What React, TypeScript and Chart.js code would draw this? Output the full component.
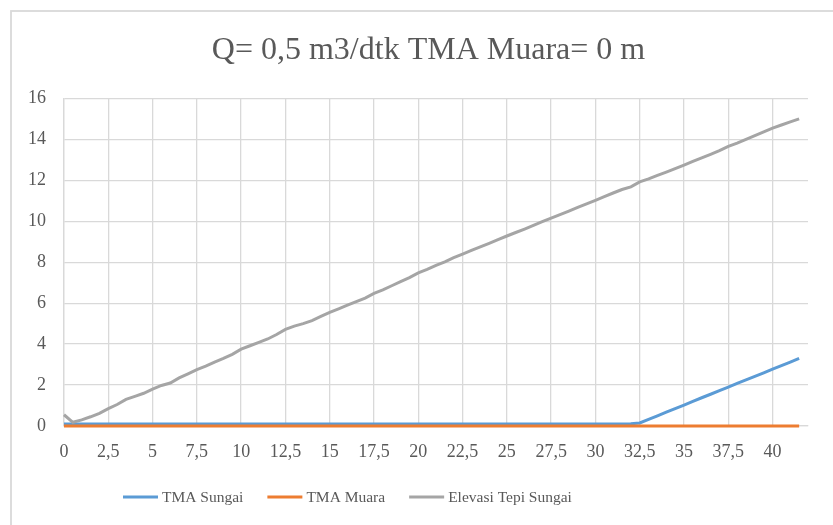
import React, { useEffect, useRef } from "react";
import { Chart, registerables } from "chart.js";

Chart.register(...registerables);

// Station along the river (m), every 0.5
const stations: number[] = [
  0, 0.5, 1, 1.5, 2, 2.5, 3, 3.5, 4, 4.5, 5, 5.5, 6, 6.5, 7, 7.5, 8, 8.5, 9, 9.5,
  10, 10.5, 11, 11.5, 12, 12.5, 13, 13.5, 14, 14.5, 15, 15.5, 16, 16.5, 17, 17.5, 18, 18.5, 19, 19.5,
  20, 20.5, 21, 21.5, 22, 22.5, 23, 23.5, 24, 24.5, 25, 25.5, 26, 26.5, 27, 27.5, 28, 28.5, 29, 29.5,
  30, 30.5, 31, 31.5, 32, 32.5, 33, 33.5, 34, 34.5, 35, 35.5, 36, 36.5, 37, 37.5, 38, 38.5, 39, 39.5,
  40, 40.5, 41, 41.5,
];

const tmaSungai: number[] = [
  0.1, 0.1, 0.1, 0.1, 0.1, 0.1, 0.1, 0.1, 0.1, 0.1, 0.1, 0.1, 0.1, 0.1, 0.1, 0.1, 0.1, 0.1, 0.1, 0.1,
  0.1, 0.1, 0.1, 0.1, 0.1, 0.1, 0.1, 0.1, 0.1, 0.1, 0.1, 0.1, 0.1, 0.1, 0.1, 0.1, 0.1, 0.1, 0.1, 0.1,
  0.1, 0.1, 0.1, 0.1, 0.1, 0.1, 0.1, 0.1, 0.1, 0.1, 0.1, 0.1, 0.1, 0.1, 0.1, 0.1, 0.1, 0.1, 0.1, 0.1,
  0.1, 0.1, 0.1, 0.1, 0.11, 0.15, 0.32, 0.5, 0.68, 0.85, 1.02, 1.2, 1.38, 1.55, 1.73, 1.9, 2.08, 2.25, 2.42, 2.6,
  2.78, 2.95, 3.12, 3.3,
];

const tmaMuara: number[] = [
  0, 0, 0, 0, 0, 0, 0, 0, 0, 0, 0, 0, 0, 0, 0, 0, 0, 0, 0, 0,
  0, 0, 0, 0, 0, 0, 0, 0, 0, 0, 0, 0, 0, 0, 0, 0, 0, 0, 0, 0,
  0, 0, 0, 0, 0, 0, 0, 0, 0, 0, 0, 0, 0, 0, 0, 0, 0, 0, 0, 0,
  0, 0, 0, 0, 0, 0, 0, 0, 0, 0, 0, 0, 0, 0, 0, 0, 0, 0, 0, 0,
  0, 0, 0, 0,
];

const elevasiTepi: number[] = [
  0.55, 0.18, 0.3, 0.45, 0.62, 0.85, 1.05, 1.3, 1.45, 1.6, 1.8, 1.98, 2.1, 2.35, 2.55, 2.75, 2.92, 3.12, 3.3, 3.5,
  3.75, 3.92, 4.08, 4.25, 4.47, 4.72, 4.88, 5.0, 5.15, 5.35, 5.55, 5.72, 5.9, 6.08, 6.25, 6.48, 6.65, 6.85, 7.05, 7.25,
  7.48, 7.65, 7.85, 8.02, 8.22, 8.4, 8.58, 8.75, 8.92, 9.1, 9.28, 9.45, 9.62, 9.8, 9.98, 10.15, 10.32, 10.5, 10.68, 10.85,
  11.02, 11.2, 11.38, 11.55, 11.68, 11.92, 12.07, 12.24, 12.4, 12.57, 12.74, 12.92, 13.1, 13.27, 13.45, 13.66, 13.82, 14.0, 14.18, 14.36,
  14.55, 14.7, 14.85, 15.0,
];

const xTicks: number[] = [0, 2.5, 5, 7.5, 10, 12.5, 15, 17.5, 20, 22.5, 25, 27.5, 30, 32.5, 35, 37.5, 40];

const titleText = "Q= 0,5 m3/dtk TMA Muara= 0 m";
const seriesNames = ["TMA Sungai", "TMA Muara", "Elevasi Tepi Sungai"];
const seriesColors = ["#5B9BD5", "#ED7D31", "#A5A5A5"];

const SERIF = '"Liberation Serif", "Times New Roman", serif';
const TEXT = "#595959";
const GRID = "#d9d9d9";

const toPoints = (ys: number[]) => stations.map((x, i) => ({ x, y: ys[i] }));

// Outer frame of the chart object
const framePlugin = {
  id: "frame",
  beforeDraw(chart: Chart) {
    const ctx = chart.ctx;
    ctx.save();
    ctx.strokeStyle = GRID;
    ctx.lineWidth = 1.8;
    ctx.strokeRect(11, 11, 1200, 1200);
    ctx.restore();
  },
};

// Legend row under the x axis: short line sample followed by the series name
const legendRowPlugin = {
  id: "legendRow",
  afterDraw(chart: Chart) {
    const ctx = chart.ctx;
    ctx.save();
    ctx.font = `15.5px ${SERIF}`;
    ctx.textBaseline = "middle";
    ctx.textAlign = "left";
    const y = 497;
    let x = 123;
    chart.data.datasets.forEach((ds: any) => {
      ctx.strokeStyle = ds.borderColor;
      ctx.lineWidth = 3;
      ctx.beginPath();
      ctx.moveTo(x, y);
      ctx.lineTo(x + 35, y);
      ctx.stroke();
      ctx.fillStyle = TEXT;
      ctx.fillText(ds.label, x + 39, y + 1);
      x += 39 + ctx.measureText(ds.label).width + 24;
    });
    ctx.restore();
  },
};

export default function App() {
  const canvasRef = useRef<HTMLCanvasElement | null>(null);

  useEffect(() => {
    if (!canvasRef.current) return;
    const series = [tmaSungai, tmaMuara, elevasiTepi];
    const chart = new Chart(canvasRef.current, {
      type: "line",
      data: {
        datasets: series.map((ys, i) => ({
          label: seriesNames[i],
          data: toPoints(ys),
          borderColor: seriesColors[i],
          backgroundColor: seriesColors[i],
          borderWidth: 3,
          pointRadius: 0,
          tension: 0,
          fill: false,
          clip: 4,
          // later series are painted over earlier ones
          order: series.length - i,
        })),
      },
      options: {
        responsive: false,
        animation: false,
        layout: { padding: { left: 24, right: 0, top: 0, bottom: 0 } },
        plugins: {
          legend: { display: false },
          tooltip: { enabled: false },
          title: {
            display: true,
            text: titleText,
            color: TEXT,
            font: { family: SERIF, size: 32, weight: "normal" },
            padding: { top: 31, bottom: 29 },
          },
        },
        scales: {
          x: {
            type: "linear",
            min: 0,
            max: 42,
            afterBuildTicks: (axis: any) => {
              axis.ticks = xTicks.map((v) => ({ value: v }));
            },
            afterFit: (axis: any) => {
              axis.height = 99;
            },
            grid: { color: GRID, lineWidth: 1.3, drawTicks: false },
            border: { color: GRID, width: 1.3 },
            ticks: {
              autoSkip: false,
              maxRotation: 0,
              padding: 15,
              color: TEXT,
              font: { family: SERIF, size: 18 },
              callback: (v: any) => String(v).replace(".", ","),
            },
          },
          y: {
            min: 0,
            max: 16,
            afterFit: (axis: any) => {
              axis.width = 40;
            },
            grid: { color: GRID, lineWidth: 1.3, drawTicks: false },
            border: { color: GRID, width: 1.3 },
            ticks: {
              stepSize: 2,
              padding: 18,
              color: TEXT,
              font: { family: SERIF, size: 18 },
            },
          },
          yRight: {
            type: "linear",
            position: "right",
            afterFit: (axis: any) => {
              axis.width = 25;
            },
            grid: { display: false, drawTicks: false },
            border: { display: false },
            ticks: { display: false },
          },
        },
      },
      plugins: [framePlugin, legendRowPlugin],
    });
    return () => chart.destroy();
  }, []);

  return (
    <div style={{ position: "absolute", left: 0, top: 0, width: 833, height: 525, background: "#fff" }}>
      <canvas ref={canvasRef} width={833} height={525} />
    </div>
  );
}
